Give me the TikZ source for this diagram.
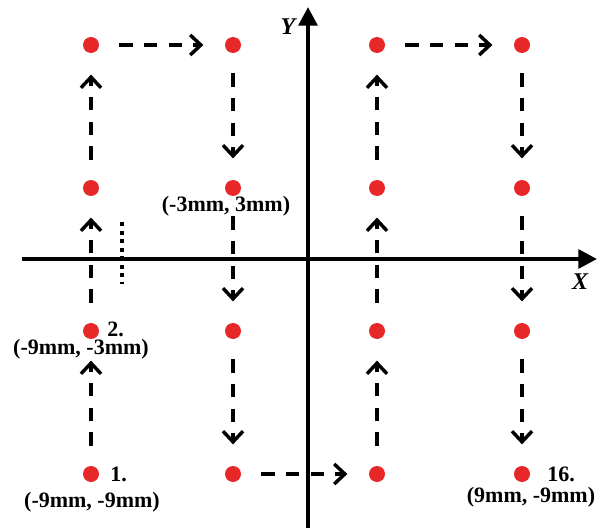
\documentclass[tikz,border=0pt]{standalone}
\usepackage{fontspec}
\setmainfont{Liberation Serif}
\usetikzlibrary{arrows.meta}
\definecolor{dotred}{RGB}{232,40,40}
\tikzset{
  dot/.style={circle,fill=dotred,draw=none,minimum size=16*0.75pt,inner sep=0pt},
  flow/.style={line width=3pt,dash pattern=on 10pt off 8.5pt,
    -{Straight Barb[length=8pt,width=15pt,line width=2.6pt]},
    shorten <=15pt,shorten >=16pt},
  axisline/.style={line width=3pt,-{Triangle[length=14pt,width=14pt]}},
  lbl/.style={inner sep=0pt,font=\fontsize{16.5}{19}\selectfont\bfseries}
}
\begin{document}
\begin{tikzpicture}[x=0.75pt,y=-0.75pt]
\useasboundingbox (0,0) rectangle (600,528);
% axes
\coordinate (xl) at (22,259);
\coordinate (xr) at (597,259);
\coordinate (yb) at (308,528);
\coordinate (yt) at (308,7);
\draw[axisline] (xl) -- (xr);
\draw[axisline] (yb) -- (yt);
\node[lbl,font=\fontsize{18}{20}\selectfont\bfseries\itshape] (xlab) at (580,282) {X};
\node[lbl,font=\fontsize{18}{20}\selectfont\bfseries\itshape] (ylab) at (288,27) {Y};
% dotted marker
\coordinate (m1) at (122,222);
\coordinate (m2) at (122,284);
\draw[line width=3pt,dash pattern=on 3.2pt off 3.2pt] (m1) -- (m2);
% dots
\foreach \c/\x in {1/91,2/233,3/377,4/522}{
  \foreach \r/\y in {1/474,2/331,3/188,4/45}{
    \node[dot] (d\c\r) at (\x,\y) {};
  }
}
% path
\draw[flow] (d11) -- (d12);
\draw[flow] (d12) -- (d13);
\draw[flow] (d13) -- (d14);
\draw[flow] (d14) -- (d24);
\draw[flow] (d24) -- (d23);
\draw[flow] (d23) -- (d22);
\draw[flow] (d22) -- (d21);
\draw[flow] (d21) -- (d31);
\draw[flow] (d31) -- (d32);
\draw[flow] (d32) -- (d33);
\draw[flow] (d33) -- (d34);
\draw[flow] (d34) -- (d44);
\draw[flow] (d44) -- (d43);
\draw[flow] (d43) -- (d42);
\draw[flow] (d42) -- (d41);
% labels
\node[lbl] (l23) at (226,206) {(-3mm, 3mm)};
\node[lbl,anchor=west] (n2) at (107,329) {2.};
\node[lbl] (l12) at (81,349.5) {(-9mm, -3mm)};
\node[lbl,anchor=west] (n1) at (110,474) {1.};
\node[lbl] (l11) at (92,502) {(-9mm, -9mm)};
\node[lbl,anchor=west] (n16) at (547,474) {16.};
\node[lbl] (l41) at (531,497) {(9mm, -9mm)};
\end{tikzpicture}
\end{document}
